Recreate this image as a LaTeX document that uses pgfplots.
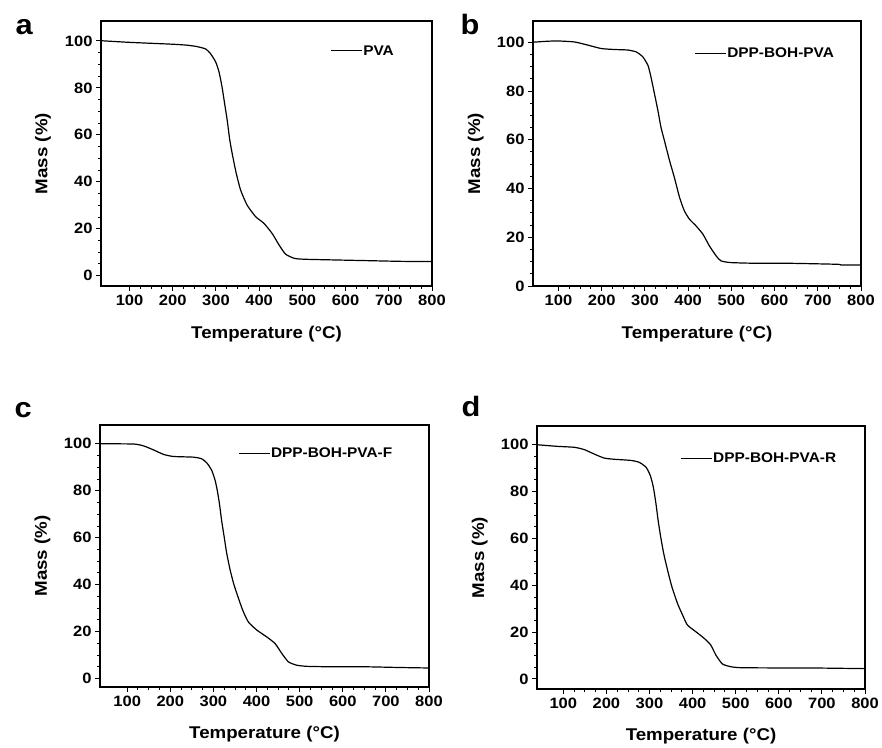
\documentclass[border=0pt]{standalone}
\usepackage{fontspec}
\setmainfont{Liberation Sans}[FakeStretch=1.1]
\usepackage{pgfplots}
\pgfplotsset{compat=1.18}

% TGA curves
\pgfplotstableread{
T m
34 100.1
100 99.4
200 98.6
233 98.2
256 97.6
276 96.6
287 94.7
299 91.2
307 86.9
314 80.5
320 73.4
326 66.3
332 57.8
339 50.7
347 43.6
357 36.5
372 30.1
392 25.1
411 22.3
430 18.0
446 13.1
461 9.2
481 7.4
504 7.0
574 6.7
651 6.4
728 6.1
800 6.0
}\pva
\pgfplotstableread{
T m
41 100.0
75 100.4
100 100.5
137 100.1
168 98.8
199 97.4
230 97.0
260 96.8
280 96.0
295 94.0
307 90.5
314 85.7
322 78.9
330 72.0
337 65.2
345 59.7
357 51.4
368 44.6
380 36.4
391 30.9
403 27.4
418 24.7
434 21.3
449 16.5
465 12.3
476 10.3
499 9.6
561 9.3
638 9.3
746 8.9
754 8.6
800 8.6
}\bohpva
\pgfplotstableread{
T m
37 100.0
115 99.9
138 99.1
161 97.4
184 95.5
207 94.6
254 94.3
273 93.6
285 91.8
296 88.7
304 84.4
309 80.1
314 74.5
319 67.4
325 60.3
331 53.2
339 46.1
347 40.4
357 34.8
368 29.1
381 24.1
401 20.6
424 17.7
443 14.9
459 10.6
474 7.1
493 5.7
517 5.2
578 5.0
656 5.0
733 4.7
800 4.5
}\bohpvaf
\pgfplotstableread{
T m
39 100.0
87 99.3
126 98.9
149 97.9
172 96.0
195 94.3
218 93.8
257 93.3
276 92.5
292 90.4
302 86.8
309 81.8
315 74.8
320 67.7
326 60.6
333 53.5
342 46.4
352 39.3
365 32.2
377 27.2
388 23.0
408 20.1
427 17.3
442 14.5
454 10.2
469 6.4
489 5.2
512 4.8
589 4.7
666 4.7
800 4.4
}\bohpvar

\pgfplotsset{
  tga/.style={
    scale only axis,
    anchor=south west,
    xmax=800,
    xtick={100,200,...,800},
    ytick={0,20,...,100},
    minor x tick num=3,
    minor y tick num=3,
    xtick pos=bottom, ytick pos=left,
    tick align=outside,
    major tick length=5pt, minor tick length=3pt,
    axis line style={line width=1.1pt},
    every tick/.style={black, line width=0.9pt},
    tick label style={font=\fontsize{15}{15}\selectfont\bfseries},
    /pgf/number format/assume math mode=true,
    xlabel={Temperature (°C)},
    ylabel={Mass (\%)},
    every axis x label/.style={at={(axis description cs:0.5,-0.18)}, anchor=center,
      font=\fontsize{17}{17}\selectfont\bfseries},
    every axis y label/.style={at={(axis description cs:-0.175,0.5)}, anchor=center, rotate=90,
      font=\fontsize{17}{17}\selectfont\bfseries},
    legend style={draw=none, fill=none, anchor=west, inner sep=0pt,
      font=\fontsize{14}{14}\selectfont\bfseries, nodes={inner sep=1pt}},
    legend image code/.code={\draw[line width=1pt] (0pt,0pt) -- (31pt,0pt);},
  },
  curve/.style={black, line width=1.2pt, no marks, smooth, tension=0.35},
}

\begin{document}
\begin{tikzpicture}
\path[use as bounding box] (0,0) rectangle (882pt,747pt);

\begin{axis}[tga, at={(101pt,461pt)}, width=331pt, height=265pt,
  xmin=34, ymin=-4.4, ymax=108.5, legend style={at={(0.692,0.887)}}]
\addplot[curve] table[x=T,y=m] {\pva};
\addlegendentry{PVA}
\end{axis}

\begin{axis}[tga, at={(533pt,461pt)}, width=328pt, height=265pt,
  xmin=41, ymin=0, ymax=108.7, legend style={at={(0.491,0.879)}}]
\addplot[curve] table[x=T,y=m] {\bohpva};
\addlegendentry{DPP-BOH-PVA}
\end{axis}

\begin{axis}[tga, at={(100pt,60pt)}, width=329pt, height=262pt,
  xmin=37, ymin=-3.6, ymax=108, legend style={at={(0.419,0.891)}}]
\addplot[curve] table[x=T,y=m] {\bohpvaf};
\addlegendentry{DPP-BOH-PVA-F}
\end{axis}

\begin{axis}[tga, at={(537pt,58pt)}, width=328pt, height=263pt,
  xmin=39, ymin=-4.3, ymax=108, legend style={at={(0.436,0.878)}}]
\addplot[curve] table[x=T,y=m] {\bohpvar};
\addlegendentry{DPP-BOH-PVA-R}
\end{axis}

\node[anchor=base west, font=\fontsize{28}{28}\selectfont\bfseries] at (12pt,712pt) {a};
\node[anchor=base west, font=\fontsize{28}{28}\selectfont\bfseries] at (457pt,712pt) {b};
\node[anchor=base west, font=\fontsize{28}{28}\selectfont\bfseries] at (11pt,329pt) {c};
\node[anchor=base west, font=\fontsize{28}{28}\selectfont\bfseries] at (458pt,330pt) {d};
\end{tikzpicture}
\end{document}
